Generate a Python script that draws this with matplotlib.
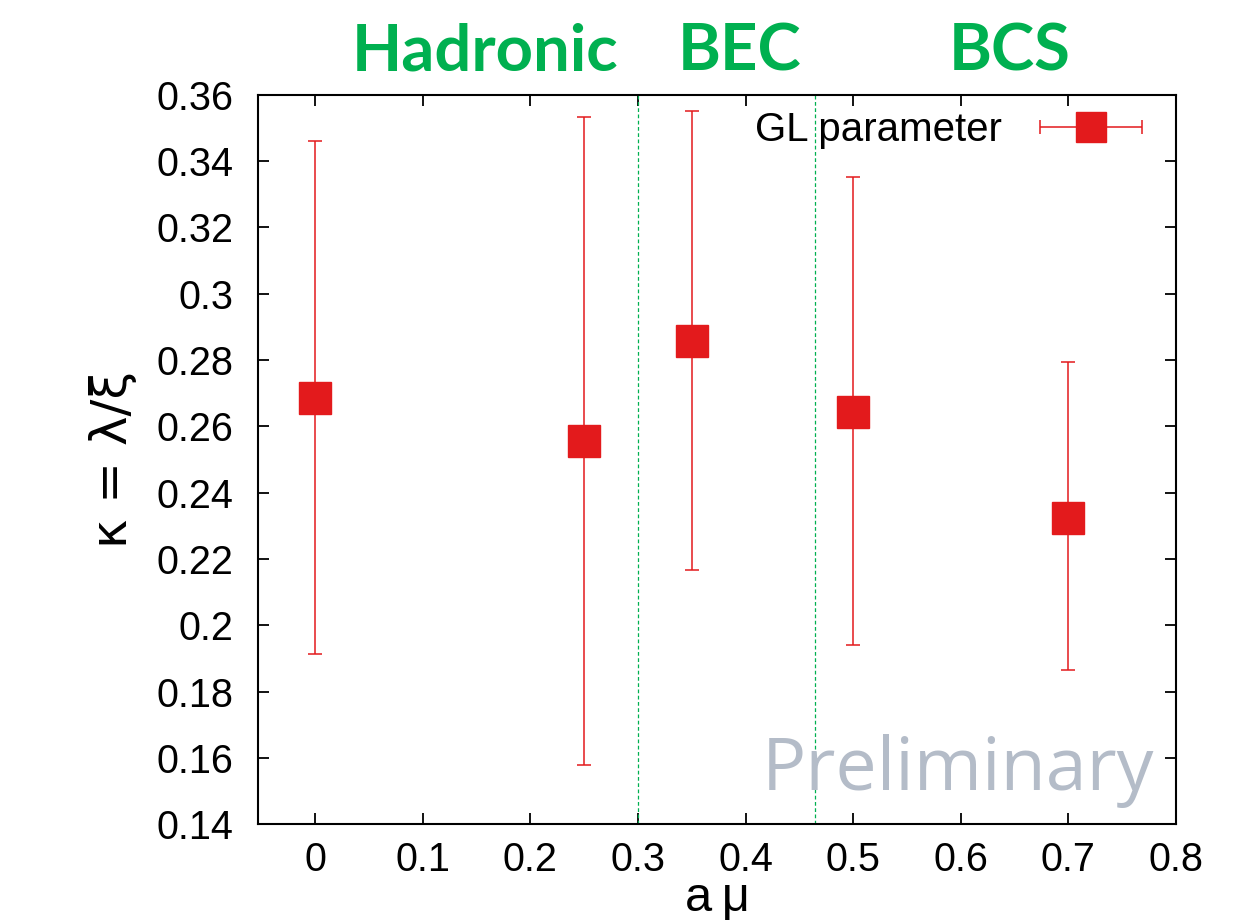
import numpy as np
import matplotlib
matplotlib.use("Agg")
import matplotlib.pyplot as plt
from matplotlib.legend_handler import HandlerErrorbar

# data
a_mu = [0.0, 0.25, 0.35, 0.5, 0.7]
kappa = [0.2686, 0.2556, 0.2857, 0.2645, 0.2323]
kappa_hi = [0.3462, 0.3534, 0.3552, 0.3353, 0.2794]
kappa_lo = [0.1913, 0.1578, 0.2167, 0.1940, 0.1865]
boundaries = [0.3, 0.465]
regions = ["Hadronic", "BEC", "BCS"]
region_x = [0.389, 0.593, 0.810]

red = "#e31a1c"
green = "#00b050"

plt.rcParams["font.family"] = ["Liberation Sans", "DejaVu Sans"]

fig = plt.figure(figsize=(12.47, 9.21), dpi=100)
ax = fig.add_axes([0.207, 0.105, 0.736, 0.792])

k = np.array(kappa)
yerr = [k - np.array(kappa_lo), np.array(kappa_hi) - k]
ax.errorbar(a_mu, kappa, yerr=yerr, fmt="s", color=red, ecolor=red,
            markersize=23, elinewidth=1.1, capsize=5, capthick=1.1)

# proxy handle so the legend shows a horizontal error bar like gnuplot
proxy = ax.errorbar([np.nan], [np.nan], xerr=[np.nan], fmt="s", color=red,
                    ecolor=red, markersize=22, elinewidth=1.1, capsize=5, capthick=1.1)
leg = ax.legend([proxy], ["GL parameter"], loc="upper right", frameon=False,
                markerfirst=False, fontsize=29, handlelength=2.6,
                bbox_to_anchor=(1.004, 1.027), handletextpad=0.9,
                handler_map={type(proxy): HandlerErrorbar(xerr_size=1.27)})

for b in boundaries:
    ax.axvline(b, color=green, lw=0.9, ls=(0, (3, 2)))

ax.set_xlim(-0.053, 0.8)
ax.set_ylim(0.14, 0.36)
ax.set_xticks(np.arange(0, 0.81, 0.1))
ax.set_xticklabels(["0", "0.1", "0.2", "0.3", "0.4", "0.5", "0.6", "0.7", "0.8"])
ax.set_yticks(np.arange(0.14, 0.361, 0.02))
ax.set_yticklabels(["0.14", "0.16", "0.18", "0.2", "0.22", "0.24", "0.26",
                    "0.28", "0.3", "0.32", "0.34", "0.36"])
ax.tick_params(direction="in", length=8, width=1.3, top=True, right=True,
               labelsize=28.5)
ax.tick_params(axis="y", pad=18)
ax.tick_params(axis="x", pad=12)
for s in ax.spines.values():
    s.set_linewidth(1.5)

ax.set_xlabel("a\u2009μ", fontsize=35, labelpad=-2,
              family=["Liberation Sans", "DejaVu Sans"])
ax.set_ylabel("κ = λ/ξ", fontsize=36, labelpad=14,
              family=["DejaVu Sans"])

ax.text(0.763, 0.047, "Preliminary", transform=ax.transAxes, ha="center",
        va="baseline", fontsize=53, color="#b4bcc8", family="Open Sans")

for name, xf in zip(regions, region_x):
    fig.text(xf, 0.944, name, ha="center", va="center", fontsize=47,
             fontweight="bold", color=green, family="Lato")

fig.savefig("out.png", dpi=100)
